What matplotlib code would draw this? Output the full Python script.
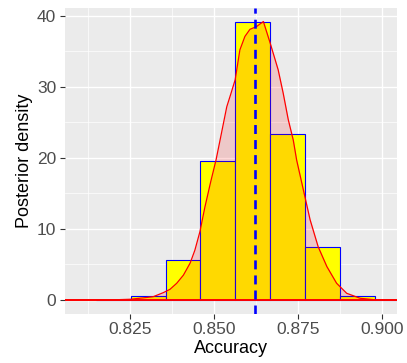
import numpy as np
import matplotlib
matplotlib.use("Agg")
import matplotlib.pyplot as plt
from matplotlib.ticker import FixedLocator

# ---- data ----
bin_edges = [0.81484, 0.82521, 0.83558, 0.84596, 0.85633, 0.86671,
             0.87708, 0.88745, 0.89783, 0.90820]
bin_density = [0.0, 0.5, 5.65, 19.5, 39.2, 23.3, 7.4, 0.5, 0.0]

dens_x = [0.8055, 0.820, 0.825, 0.8290, 0.8319, 0.8349, 0.8369, 0.8389, 0.8409,
          0.8429, 0.8443, 0.8458, 0.8473, 0.8490, 0.8506, 0.8518, 0.8538, 0.8550,
          0.8563, 0.8577, 0.8592, 0.8607, 0.8627, 0.8647, 0.8667, 0.8691, 0.8706,
          0.8721, 0.8736, 0.8746, 0.8766, 0.8786, 0.8810, 0.8836, 0.8865, 0.8895,
          0.8935, 0.8975, 0.9045]
dens_y = [0.0, 0.02, 0.1, 0.3, 0.46, 1.03, 1.5, 2.35, 3.5,
          5.2, 7.0, 9.6, 13.1, 16.6, 19.7, 22.5, 27.2, 29.0,
          31.0, 35.2, 37.1, 38.1, 38.5, 39.2, 36.2, 32.4, 29.1,
          25.4, 22.5, 19.7, 15.5, 11.3, 7.5, 4.7, 2.35, 0.94,
          0.24, 0.05, 0.0]

mean_accuracy = 0.8623
x_ticks = [0.825, 0.850, 0.875, 0.900]
x_ticklabels = ["0.825", "0.850", "0.875", "0.900"]
y_ticks = [0, 10, 20, 30, 40]
x_label = "Accuracy"
y_label = "Posterior density"

# ---- figure ----
plt.rcParams['font.family'] = ['Liberation Sans', 'DejaVu Sans']
W, H = 407, 363
fig = plt.figure(figsize=(W / 100, H / 100), dpi=100)
left, right, top, bottom = 64.5, 397.1, 7.6, 313.9
ax = fig.add_axes([left / W, 1 - bottom / H, (right - left) / W, (bottom - top) / H])

ax.set_facecolor('#EBEBEB')
for s in ax.spines.values():
    s.set_visible(False)

ax.set_xlim(0.8055, 0.9045)
ax.set_ylim(-1.96, 41.16)

ax.xaxis.set_major_locator(FixedLocator(x_ticks))
ax.xaxis.set_minor_locator(FixedLocator([0.8125, 0.8375, 0.8625, 0.8875]))
ax.yaxis.set_major_locator(FixedLocator(y_ticks))
ax.yaxis.set_minor_locator(FixedLocator([5, 15, 25, 35]))
ax.set_xticklabels(x_ticklabels)

ax.grid(which='major', color='white', linewidth=1.0)
ax.grid(which='minor', color='white', linewidth=0.5)
ax.set_axisbelow(True)

ax.tick_params(which='major', length=3.5, width=0.8, color='#333333',
               labelsize=12.5, labelcolor='#4D4D4D', pad=2.5)
ax.tick_params(which='minor', length=0)

# histogram
edges = np.array(bin_edges)
ax.bar(edges[:-1], bin_density, width=np.diff(edges), align='edge',
       color='#FFFF00', edgecolor='#0000FF', linewidth=0.8, zorder=2)

# density
ax.fill_between(dens_x, dens_y, 0, color='red', alpha=0.15, linewidth=0, zorder=3)
ax.plot(dens_x, dens_y, color='red', linewidth=0.9, zorder=4)
ax.axhline(0, color='red', linewidth=1.4, zorder=4)

# mean line
ax.axvline(mean_accuracy, color='#0000FF', linewidth=1.9,
           linestyle=(0, (3.4, 2.3)), zorder=5)

ax.set_xlabel(x_label, fontsize=13, color='black', labelpad=2)
ax.set_ylabel(y_label, fontsize=13, color='black', labelpad=3)

fig.savefig('out.png', dpi=100)
